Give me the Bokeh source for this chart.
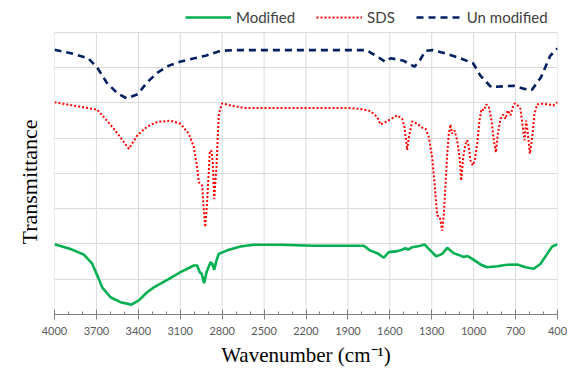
from bokeh.plotting import figure
from bokeh.models import Range1d, FixedTicker, Legend, LegendItem, Title
from bokeh.embed import file_html
from bokeh.resources import INLINE

# ---- data ----
mod_wn = [4000, 3885, 3790, 3730, 3694, 3659, 3599, 3528, 3449, 3397, 3337, 3289, 3193, 3098,
          3003, 2979, 2960, 2946, 2929, 2912, 2883, 2871, 2857, 2841, 2824, 2764, 2669, 2573,
          2382, 2144, 1786, 1743, 1690, 1643, 1607, 1559, 1524, 1488, 1469, 1440, 1380, 1352,
          1321, 1268, 1225, 1189, 1142, 1094, 1070, 1046, 999, 951, 903, 831, 760, 688, 629,
          569, 521, 474, 438, 400]
mod_t = [1.99, 1.86, 1.70, 1.44, 1.11, 0.77, 0.49, 0.35, 0.28, 0.40, 0.63, 0.77, 0.98, 1.20,
         1.39, 1.39, 1.20, 1.15, 0.89, 1.20, 1.48, 1.44, 1.27, 1.53, 1.72, 1.82, 1.93, 1.98,
         1.98, 1.95, 1.95, 1.82, 1.74, 1.61, 1.77, 1.79, 1.82, 1.88, 1.84, 1.91, 1.95, 1.99,
         1.86, 1.65, 1.72, 1.89, 1.74, 1.67, 1.63, 1.66, 1.55, 1.42, 1.34, 1.37, 1.41, 1.42, 1.34,
         1.30, 1.44, 1.72, 1.93, 1.99]

sds_wn = [4000, 3694, 3575, 3468, 3408, 3337, 3265, 3170, 3098, 3039, 3003, 2979, 2967, 2943,
          2931, 2921, 2907, 2888, 2876, 2867, 2857, 2841, 2824, 2800, 2740, 2645, 2239, 1905,
          1810, 1738, 1690, 1667, 1619, 1547, 1512, 1495, 1476, 1464, 1440, 1404, 1368, 1345,
          1321, 1297, 1280, 1261, 1242, 1225, 1213, 1201, 1189, 1178, 1166, 1154, 1137, 1118,
          1101, 1089, 1075, 1058, 1046, 1034, 1023, 1006, 992, 975, 958, 944, 927, 910, 892,
          872, 856, 841, 827, 808, 789, 772, 756, 736, 720, 706, 684, 665, 648, 636, 624, 612,
          598, 581, 565, 545, 510, 462, 431, 400]
sds_t = [6.02, 5.81, 5.27, 4.70, 5.08, 5.33, 5.46, 5.50, 5.41, 5.13, 4.75, 4.18, 3.75, 3.66,
         2.95, 2.48, 3.23, 4.65, 4.63, 4.32, 3.28, 4.18, 5.69, 5.99, 5.93, 5.86, 5.86, 5.86,
         5.83, 5.77, 5.60, 5.39, 5.48, 5.65, 5.55, 5.31, 4.67, 5.03, 5.48, 5.41, 5.30, 5.27,
         5.03, 4.46, 3.71, 2.81, 2.76, 2.38, 2.86, 3.71, 4.56, 5.13, 5.39, 5.13, 5.22, 4.94,
         4.46, 3.80, 4.46, 4.84, 4.94, 4.75, 4.37, 4.23, 4.37, 4.84, 5.50, 5.83, 5.79, 5.96, 5.90,
         5.50, 4.94, 4.60, 5.13, 5.55, 5.67, 5.55, 5.79, 5.65, 5.88, 5.99, 5.93, 5.83, 5.31, 4.94,
         5.50, 5.13, 4.56, 5.03, 5.69, 5.96, 5.98, 5.96, 5.93, 6.02]

unm_wn = [4000, 3890, 3759, 3693, 3627, 3549, 3483, 3404, 3339, 3260, 3181, 3103, 2998, 2919,
          2814, 2709, 1764, 1738, 1686, 1633, 1594, 1503, 1423, 1384, 1345, 1292, 1187, 1082,
          1003, 951, 872, 846, 715, 636, 584, 518, 452, 400]
unm_t = [7.51, 7.42, 7.27, 7.00, 6.58, 6.27, 6.13, 6.25, 6.58, 6.87, 7.06, 7.17, 7.27, 7.34,
         7.48, 7.50, 7.50, 7.43, 7.31, 7.17, 7.27, 7.20, 7.03, 7.22, 7.48, 7.50, 7.39, 7.25,
         7.12, 6.77, 6.44, 6.46, 6.49, 6.40, 6.37, 6.73, 7.34, 7.55]

x_ticks = [4000, 3700, 3400, 3100, 2800, 2500, 2200, 1900, 1600, 1300, 1000, 700, 400]
x_minor = list(range(400, 4001, 100))
y_grid = [1, 2, 3, 4, 5, 6, 7, 8]
y_min, y_max = 0, 8

p = figure(width=573, height=370, output_backend="svg", toolbar_location=None,
           x_range=Range1d(4000, 400), y_range=Range1d(0, 8.851),
           min_border_left=54, min_border_right=16, min_border_top=2, min_border_bottom=56)
p.outline_line_color = None
p.background_fill_color = "white"
p.border_fill_color = "white"

# vertical grid lines at the major ticks, limited to the plotting band
p.segment(x0=x_ticks, y0=[y_min] * len(x_ticks), x1=x_ticks, y1=[y_max] * len(x_ticks),
          line_color="#d9d9d9", line_width=1)

r_mod = p.line(mod_wn, mod_t, line_color="#00b050", line_width=2.6)
r_sds = p.line(sds_wn, sds_t, line_color="#ff0000", line_width=2, line_dash="2 2")
r_unm = p.line(unm_wn, unm_t, line_color="#002060", line_width=2.6, line_dash="7 5")

# x axis
p.xaxis.ticker = FixedTicker(ticks=x_ticks, minor_ticks=x_minor)
p.xaxis.axis_label = "Wavenumber (cm\u207b\u00b9)"
p.xaxis.axis_label_text_font = "Liberation Serif"
p.xaxis.axis_label_text_font_style = "normal"
p.xaxis.axis_label_text_font_size = "21px"
p.xaxis.axis_label_text_color = "#000000"
p.xaxis.axis_label_standoff = 5
p.xaxis.major_label_text_font = "Lato"
p.xaxis.major_label_text_font_size = "11px"
p.xaxis.major_label_text_color = "#595959"
p.xaxis.major_label_standoff = 7
p.xaxis.axis_line_color = "#7f7f7f"
p.xaxis.major_tick_line_color = "#7f7f7f"
p.xaxis.minor_tick_line_color = "#7f7f7f"
p.xaxis.major_tick_in = 5
p.xaxis.major_tick_out = 5
p.xaxis.minor_tick_in = 3
p.xaxis.minor_tick_out = 0
p.xgrid.visible = False

# y: no axis, only horizontal grid lines and a label
p.yaxis.visible = False
p.ygrid.ticker = FixedTicker(ticks=y_grid)
p.ygrid.grid_line_color = "#d9d9d9"
p.ygrid.grid_line_width = 1

ylab = Title(text="Transmittance", align="left", offset=70, vertical_align="bottom",
             text_font="Liberation Serif", text_font_style="normal",
             text_font_size="22px", text_color="#000000", standoff=26)
p.add_layout(ylab, "left")

legend = Legend(items=[LegendItem(label="Modified", renderers=[r_mod]),
                       LegendItem(label="SDS", renderers=[r_sds]),
                       LegendItem(label="Un modified", renderers=[r_unm])],
                orientation="horizontal", location=(131, 288),
                label_text_font="Lato", label_text_font_size="15px",
                label_text_color="#404040", glyph_width=46, glyph_height=14,
                spacing=21, label_standoff=5, padding=2, margin=0,
                background_fill_alpha=0, border_line_color=None)
p.add_layout(legend, "center")

open("out.html", "w").write(file_html(p, INLINE))
